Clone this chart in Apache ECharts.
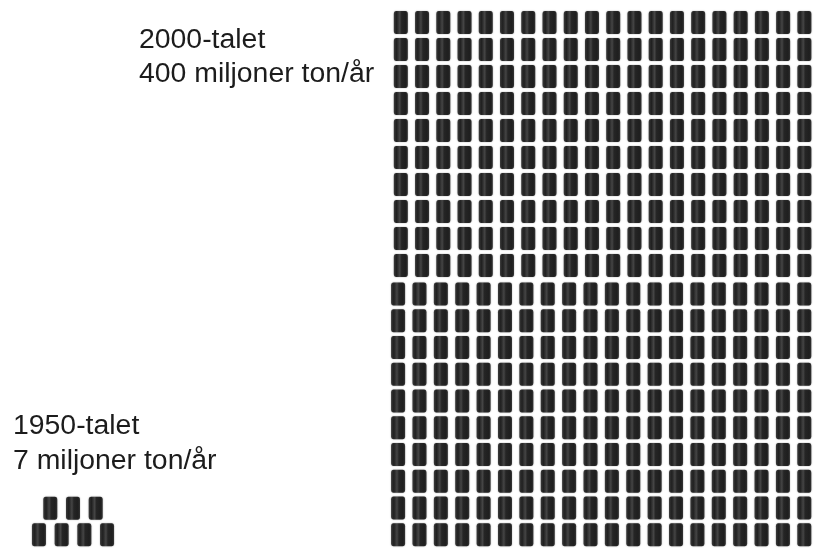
<!DOCTYPE html>
<html>
<head>
<meta charset="utf-8">
<style>html,body{margin:0;padding:0;background:#fff}#c{width:815px;height:548px}</style>
<script src="https://cdn.jsdelivr.net/npm/echarts@6/dist/echarts.min.js"></script>
</head>
<body>
<div id="c"></div>
<script>
// Data: one barrel = 1 million tonnes per year
const decades = ['1950-talet', '2000-talet'];
const volumes = [7, 400];
const unitLabel = 'miljoner ton/år';
const columnsPerRow2000 = 20;
const rowsPerBlock2000 = 10;
const rowLengths1950 = [3, 4];

const barrel = 'path://M2.5,0 H11.5 Q14,0 14,3 V20 Q14,23 11.5,23 H2.5 Q0,23 0,20 V3 Q0,0 2.5,0 Z';
const barrelStyle = {
  color: {type:'linear', x:0, y:0, x2:1, y2:0, colorStops:[
    {offset:0, color:'#1c1c1c'}, {offset:.2, color:'#020202'}, {offset:.42, color:'#303030'},
    {offset:.56, color:'#080808'}, {offset:.85, color:'#000'}, {offset:1, color:'#141414'}]},
  shadowBlur: 1.5, shadowColor: 'rgba(0,0,0,.5)'
};

const colCats = Array.from({length: columnsPerRow2000}, (_, i) => i);
const rowCats = Array.from({length: rowsPerBlock2000}, (_, i) => i);

// 400 units split over two blocks of rows (the source picture has them slightly offset)
function blockMarks(startUnit) {
  const out = [];
  for (let r = 0; r < rowsPerBlock2000; r++)
    for (let c = 0; c < columnsPerRow2000; c++)
      if (startUnit + out.length < volumes[1]) out.push([c, r]);
  return out;
}
// 1950s: rows are centred on each other, hence half-column offsets
const marks1950 = [];
rowLengths1950.forEach((n, r) => {
  const shift = (Math.max(...rowLengths1950) - n) / 2;
  for (let c = 0; c < n; c++) marks1950.push([c + shift, r]);
});

const hiddenCat = (data, gridIndex, inverse) => ({type:'category', data, gridIndex, inverse: !!inverse, show:false, boundaryGap:true});
const sym = {type:'scatter', symbol:barrel, symbolSize:[14,23], itemStyle:barrelStyle, silent:true, animation:false};
const txt = (x, y, text) => ({type:'text', x, y, silent:true, style:{text, font:'28.4px "Liberation Sans"', fill:'#1c1c1c', textBaseline:'top', textAlign:'left'}});

const chart = echarts.init(document.getElementById('c'), null, {renderer:'canvas'});
chart.setOption({
  animation:false,
  backgroundColor:'#fff',
  grid:[
    {left:390.2, top:9, width:430, height:270},
    {left:387.4, top:280.5, width:430, height:270},
    {left:27.6, top:495, width:90.8, height:56}
  ],
  xAxis:[
    hiddenCat(colCats,0), hiddenCat(colCats,1),
    {type:'value', gridIndex:2, min:-0.5, max:3.5, show:false}
  ],
  yAxis:[
    hiddenCat(rowCats,0,true), hiddenCat(rowCats,1,true),
    {type:'value', gridIndex:2, min:-0.5, max:1.5, inverse:true, show:false}
  ],
  series:[
    Object.assign({}, sym, {name:decades[1], xAxisIndex:0, yAxisIndex:0, data:blockMarks(0)}),
    Object.assign({}, sym, {name:decades[1], xAxisIndex:1, yAxisIndex:1, data:blockMarks(200)}),
    Object.assign({}, sym, {name:decades[0], xAxisIndex:2, yAxisIndex:2, data:marks1950})
  ],
  graphic:[
    txt(139, 26, decades[1]),
    txt(139, 60, volumes[1] + ' ' + unitLabel),
    txt(13, 412, decades[0]),
    txt(13, 447, volumes[0] + ' ' + unitLabel)
  ]
});
</script>
</body>
</html>
